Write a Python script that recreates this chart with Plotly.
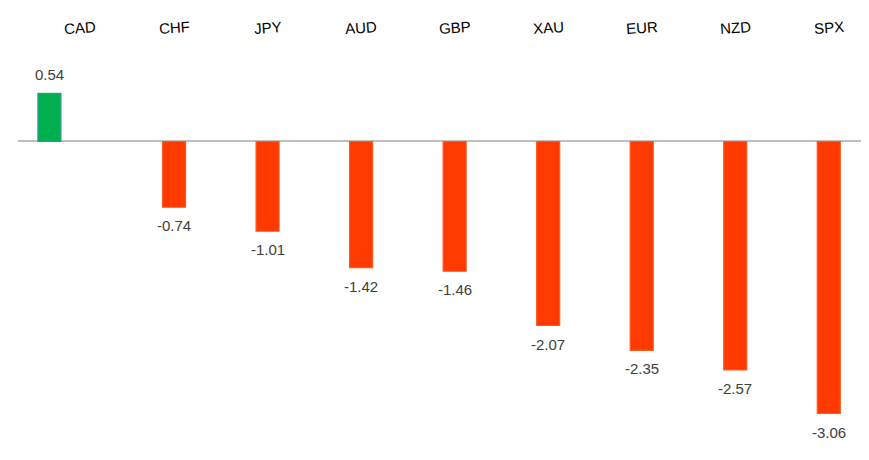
import plotly.graph_objects as go

categories = ["CAD", "CHF", "JPY", "AUD", "GBP", "XAU", "EUR", "NZD", "SPX"]
values = [0.54, -0.74, -1.01, -1.42, -1.46, -2.07, -2.35, -2.57, -3.06]

pos_x = [c for c, v in zip(categories, values) if v >= 0]
pos_y = [v for v in values if v >= 0]
neg_x = [c for c, v in zip(categories, values) if v < 0]
neg_y = [v for v in values if v < 0]

fig = go.Figure()
fig.add_trace(go.Bar(
    x=pos_x, y=pos_y, width=0.246, offset=-0.455,
    marker=dict(color="#00B050", line=dict(color="#2E9E8A", width=1.2)),
    hoverinfo="x+y", showlegend=False))
fig.add_trace(go.Bar(
    x=neg_x, y=neg_y, width=0.246,
    marker=dict(color="#FF3A00", line=dict(color="#FF5A20", width=1.2)),
    hoverinfo="x+y", showlegend=False))

for c, v in zip(pos_x, pos_y):
    fig.add_annotation(x=c, y=v, text=f"{v:.2f}", showarrow=False,
                       xshift=-93.55 * (0.455 - 0.123), yanchor="bottom", yshift=8,
                       font=dict(family="Liberation Sans, Arial", size=15, color="#404040"))
for c, v in zip(neg_x, neg_y):
    fig.add_annotation(x=c, y=v, text=f"{v:.2f}", showarrow=False,
                       yanchor="top", yshift=-8,
                       font=dict(family="Liberation Sans, Arial", size=15, color="#404040"))

# category labels along the top, slightly tilted
for c in categories:
    fig.add_annotation(x=c, y=1, xref="x", yref="paper", text=c, showarrow=False,
                       yanchor="middle", yshift=23, textangle=-4,
                       font=dict(family="Liberation Sans, Arial", size=15, color="#000000"))

fig.update_layout(
    width=869, height=460,
    margin=dict(l=10, r=8, t=42, b=28, autoexpand=False),
    paper_bgcolor="white", plot_bgcolor="white",
    barmode="overlay",
    xaxis=dict(type="category", categoryorder="array", categoryarray=categories,
               side="top", range=[-0.668, 8.43], showgrid=False, showline=False,
               ticks="", showticklabels=False, automargin=False),
    yaxis=dict(range=[-3.358, 1.029], showgrid=False, showticklabels=False,
               automargin=False,
               zeroline=True, zerolinecolor="#BFBFBF", zerolinewidth=2, ticks=""),
)

fig.write_html("out.html")
